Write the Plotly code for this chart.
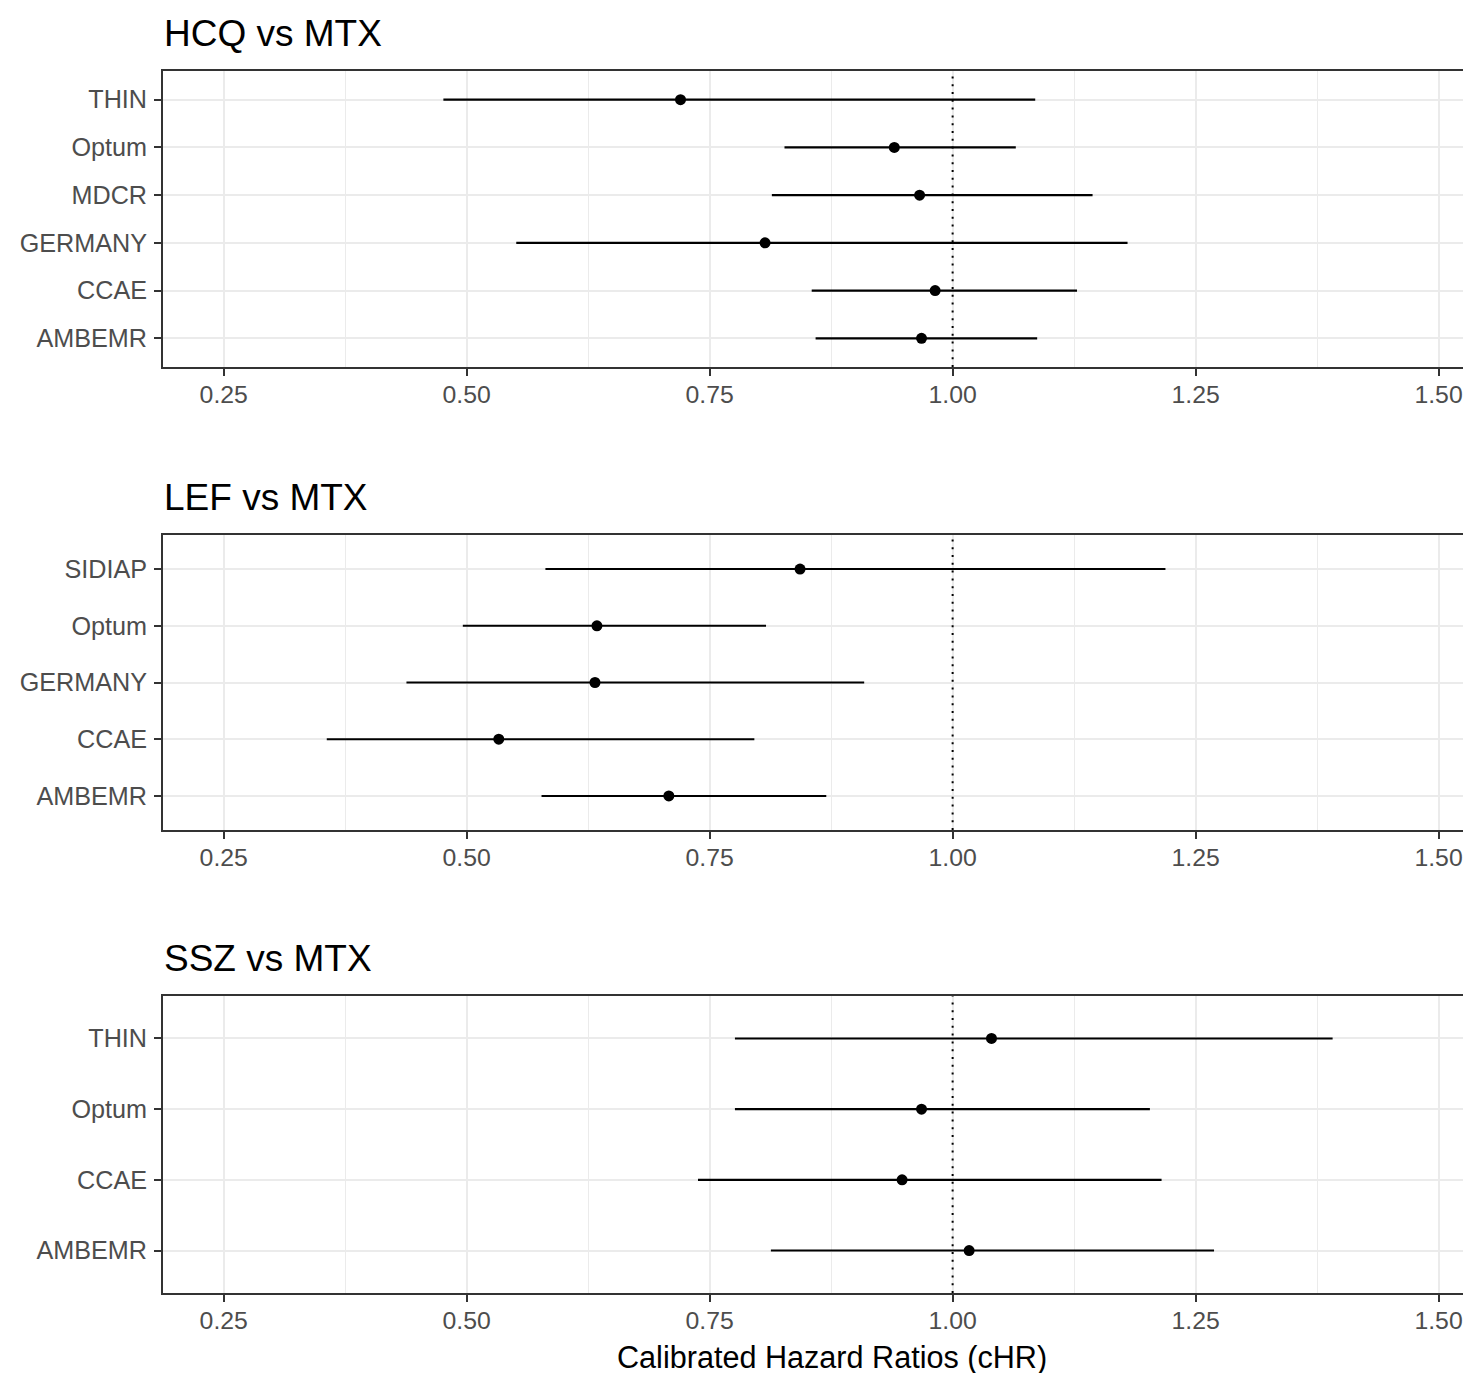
import plotly.graph_objects as go

# ---------------- data ----------------
hcq_sources = ["AMBEMR", "CCAE", "GERMANY", "MDCR", "Optum", "THIN"]
hcq_est = [0.968, 0.982, 0.807, 0.966, 0.940, 0.720]
hcq_lower = [0.859, 0.855, 0.551, 0.814, 0.827, 0.476]
hcq_upper = [1.087, 1.128, 1.180, 1.144, 1.065, 1.085]

lef_sources = ["AMBEMR", "CCAE", "GERMANY", "Optum", "SIDIAP"]
lef_est = [0.708, 0.533, 0.632, 0.634, 0.843]
lef_lower = [0.577, 0.356, 0.438, 0.496, 0.581]
lef_upper = [0.870, 0.796, 0.909, 0.808, 1.219]

ssz_sources = ["AMBEMR", "CCAE", "Optum", "THIN"]
ssz_est = [1.017, 0.948, 0.968, 1.040]
ssz_lower = [0.813, 0.738, 0.776, 0.776]
ssz_upper = [1.269, 1.215, 1.203, 1.391]

panel_titles = ["HCQ vs MTX", "LEF vs MTX", "SSZ vs MTX"]
x_title = "Calibrated Hazard Ratios (cHR)"
x_ticks = [0.25, 0.50, 0.75, 1.00, 1.25, 1.50]
x_ticklabels = ["0.25", "0.50", "0.75", "1.00", "1.25", "1.50"]
reference_value = 1.0

# ---------------- layout constants ----------------
OFF = 8  # page body margin
W, H = 1471 - OFF, 1373 - OFF
FONT = "Liberation Sans, Arial, Helvetica, sans-serif"
L = 163 - OFF
panel_px = [(71 - OFF, 367 - OFF), (535 - OFF, 830 - OFF), (996 - OFF, 1293 - OFF)]
x_range = [0.1875, 1.5334]

panels = [
    (hcq_sources, hcq_est, hcq_lower, hcq_upper),
    (lef_sources, lef_est, lef_lower, lef_upper),
    (ssz_sources, ssz_est, ssz_lower, ssz_upper),
]

fig = go.Figure()
layout = dict(
    width=W, height=H,
    margin=dict(l=L, r=0, t=0, b=0),
    paper_bgcolor="white", plot_bgcolor="white",
    showlegend=False,
    font=dict(family=FONT),
)
annotations = []
shapes = []

for i, (src, est, lo, hi) in enumerate(panels):
    n = i + 1
    xa = "x" if n == 1 else f"x{n}"
    ya = "y" if n == 1 else f"y{n}"
    xkey = "xaxis" if n == 1 else f"xaxis{n}"
    ykey = "yaxis" if n == 1 else f"yaxis{n}"

    plus = [h - e for h, e in zip(hi, est)]
    minus = [e - l for e, l in zip(est, lo)]
    fig.add_trace(go.Scatter(
        x=est, y=src, mode="markers",
        marker=dict(color="black", size=11),
        error_x=dict(type="data", symmetric=False, array=plus, arrayminus=minus,
                     width=0, thickness=2.1, color="black"),
        xaxis=xa, yaxis=ya, hoverinfo="skip",
    ))

    top, bot = panel_px[i]
    dom = [1 - bot / H, 1 - top / H]
    layout[xkey] = dict(
        domain=[0, 1], range=x_range, anchor=ya,
        tickmode="array", tickvals=x_ticks, ticktext=x_ticklabels,
        ticks="outside", ticklen=7, tickwidth=1.8, tickcolor="#333333",
        tickfont=dict(size=24.8, color="#4D4D4D", family=FONT),
        ticklabelstandoff=-3,
        showgrid=True, gridcolor="#EBEBEB", gridwidth=1.8,
        minor=dict(tickmode="array", tickvals=[0.375, 0.625, 0.875, 1.125, 1.375],
                   showgrid=True, gridcolor="#EBEBEB", gridwidth=1, ticks=""),
        showline=True, linecolor="#333333", linewidth=1.8, mirror=True,
        zeroline=False, fixedrange=True,
    )
    layout[ykey] = dict(
        domain=dom, anchor=xa, type="category",
        categoryorder="array", categoryarray=src,
        range=[-0.6, len(src) - 0.4],
        ticks="outside", ticklen=7, tickwidth=1.8, tickcolor="#333333",
        tickfont=dict(size=25.2, color="#4D4D4D", family=FONT),
        ticklabelstandoff=2,
        showgrid=True, gridcolor="#EBEBEB", gridwidth=1.8,
        showline=True, linecolor="#333333", linewidth=1.8, mirror=False,
        zeroline=False, fixedrange=True,
    )

    shapes.append(dict(
        type="line", xref=xa, yref=f"{ya} domain",
        x0=reference_value, x1=reference_value, y0=0, y1=1,
        line=dict(color="black", width=2, dash="2px,5.8px"), layer="above",
    ))

    annotations.append(dict(
        text=panel_titles[i], xref="paper", yref="paper",
        x=-0.001, y=1 - (top - 37.7) / H, xanchor="left", yanchor="middle",
        showarrow=False, font=dict(size=37, color="black", family=FONT),
    ))

annotations.append(dict(
    text=x_title, xref="paper", yref="paper",
    x=(831.5 - 163) / (W - L), y=1 - (1357 - OFF) / H, xanchor="center", yanchor="middle",
    showarrow=False, font=dict(size=30.6, color="black", family=FONT),
))

layout["annotations"] = annotations
layout["shapes"] = shapes
fig.update_layout(**layout)
fig.write_html("out.html")
